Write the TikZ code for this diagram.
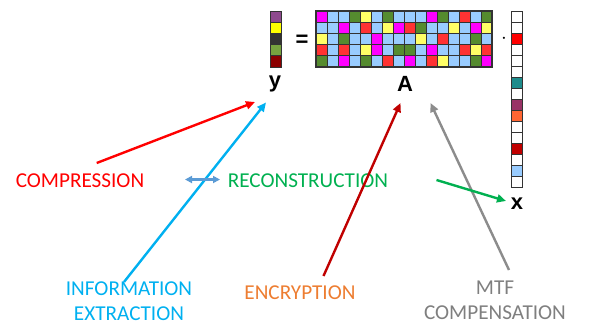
\documentclass[tikz,border=0pt]{standalone}
\usepackage{fontspec}
\setmainfont{Carlito}
\newfontfamily\arialf{Liberation Sans}
\usetikzlibrary{arrows.meta}
\definecolor{cM}{HTML}{FF00FF}
\definecolor{cB}{HTML}{99CCFF}
\definecolor{cG}{HTML}{558B2F}
\definecolor{cY}{HTML}{FFFF66}
\definecolor{cR}{HTML}{FF3333}
\definecolor{cW}{HTML}{FFFFFF}
\definecolor{yP}{HTML}{8E4A8E}
\definecolor{yY}{HTML}{FFFF00}
\definecolor{yK}{HTML}{333333}
\definecolor{yG}{HTML}{77A33F}
\definecolor{yD}{HTML}{8B0000}
\definecolor{xR}{HTML}{FF0000}
\definecolor{xT}{HTML}{1E8C8C}
\definecolor{xP}{HTML}{993366}
\definecolor{xO}{HTML}{FF6633}
\definecolor{xD}{HTML}{C00000}
\definecolor{txtred}{HTML}{FF0000}
\definecolor{txtgreen}{HTML}{00B050}
\definecolor{txtcyan}{HTML}{00B0F0}
\definecolor{txtorange}{HTML}{ED7D31}
\definecolor{txtgray}{HTML}{7F7F7F}
\definecolor{arrdred}{HTML}{C00000}
\definecolor{arrgray}{HTML}{8C8C8C}
\definecolor{arrdbl}{HTML}{5B9BD5}
\tikzset{
  cell/.style={draw=black!80, line width=0.8pt},
  lbl/.style={font=\fontsize{21.2}{23}\selectfont, align=center, inner sep=0pt},
  sym/.style={font=\arialf\bfseries\fontsize{22}{24}\selectfont, inner sep=0pt},
  arr/.style={line width=2.4pt, -{Triangle[length=9pt,width=8pt]}},
}
\begin{document}
\begin{tikzpicture}[x=1pt,y=-1pt]
\useasboundingbox (0,0) rectangle (590,327);
% matrix A
\foreach \row [count=\r from 0] in {
 {M,B,B,G,Y,B,G,B,B,B,M,G,B,R,B,G},
 {B,B,M,B,R,B,Y,M,R,G,B,B,Y,B,M,Y},
 {Y,B,G,B,B,M,B,B,B,Y,B,R,B,B,G,B},
 {R,B,R,B,Y,M,B,G,G,B,M,B,B,R,Y,R},
 {G,B,M,B,G,B,R,B,M,B,R,Y,B,B,G,M}} {
  \foreach \c [count=\k from 0] in \row {
    \filldraw[cell, fill=c\c] ({316+11*\k},{11+11.2*\r}) rectangle ++(11,11.2);
  }
}
\draw[black!80, line width=1.2pt] (316,11) rectangle (492,67);
% vector y
\foreach \c [count=\k from 0] in {yP,yY,yK,yG,yD} {
  \filldraw[cell, fill=\c] (270.5,{11+11.2*\k}) rectangle ++(11,11.2);
}
% vector x
\foreach \c [count=\k from 0] in {cW,cW,xR,cW,cW,cW,xT,cW,xP,xO,cW,cW,xD,cW,cB,cW} {
  \filldraw[cell, fill=\c] (511.5,{11.5+11*\k}) rectangle ++(11,11);
}
% symbols
\node[sym] (eq) at (302,41) {=};
\node[sym] (dot) at (504,39) {$\cdot$};
\node[sym] (ylab) at (275,84) {y};
\node[sym] (Alab) at (405,84) {A};
\node[sym] (xlab) at (517,204) {x};
% labels
\node[lbl, text=txtred] (comp) at (80,181) {COMPRESSION};
\node[lbl, text=txtgreen] (recon) at (308,181) {RECONSTRUCTION};
\node[lbl, text=txtcyan] (info) at (129,301) {INFORMATION\\[2pt]EXTRACTION};
\node[lbl, text=txtorange] (encr) at (300,293) {ENCRYPTION};
\node[lbl, text=txtgray] (mtf) at (495,300) {MTF\\[2pt]COMPENSATION};
% arrow end points
\coordinate (r0) at (96.7,163);
\coordinate (r1) at (255,102);
\coordinate (b0) at (124,282);
\coordinate (b1) at (266,102.5);
\coordinate (d0) at (323.5,276);
\coordinate (d1) at (400.5,103);
\coordinate (g0) at (509,270);
\coordinate (g1) at (430.5,103);
\coordinate (n0) at (436.5,180);
\coordinate (n1) at (506,201);
\coordinate (w0) at (185,179.5);
\coordinate (w1) at (220,179.5);
% arrows
\draw[arr, txtred] (r0) -- (r1);
\draw[arr, txtcyan] (b0) -- (b1);
\draw[arr, arrdred] (d0) -- (d1);
\draw[arr, arrgray] (g0) -- (g1);
\draw[arr, txtgreen] (n0) -- (n1);
\draw[arrdbl, line width=2.2pt, {Triangle[length=7pt,width=7pt]}-{Triangle[length=7pt,width=7pt]}] (w0) -- (w1);
\end{tikzpicture}
\end{document}
